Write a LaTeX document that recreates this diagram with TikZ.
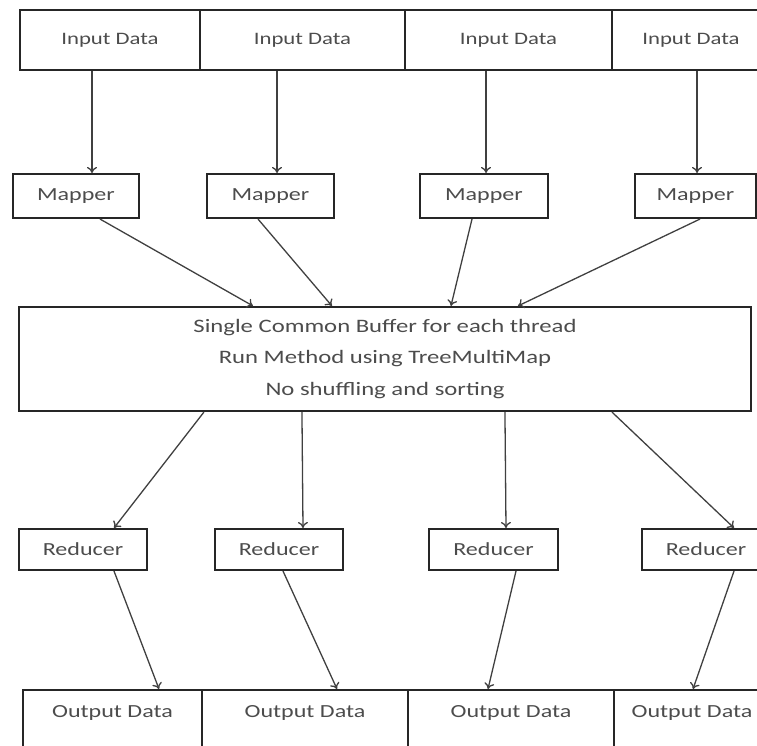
\documentclass[tikz,border=0pt]{standalone}
\usepackage{fontspec}
\setmainfont{Carlito}[FakeStretch=1.3]
\usepackage{tikz}
\usetikzlibrary{arrows.meta}

\tikzset{
  box/.style={draw=black!85, line width=2.1pt, inner sep=0pt, text=black!70,
    font=\fontsize{18.5}{22}\selectfont},
  outbox/.style={box, anchor=north, inner xsep=0pt, inner ysep=15pt,
    text height=12pt, text depth=70pt},
  arr/.style={-{To[length=6pt,width=10pt]}, draw=black!75, line width=1.3pt},
}

\begin{document}
\begin{tikzpicture}[x=1pt,y=-1pt]
    \useasboundingbox (0,0) rectangle (757,746);
    \clip (0,0) rectangle (757,746);

    % input row
    \node[box, font=\fontsize{17.5}{21}\selectfont, minimum width=180, minimum height=60] (in1) at (110,40) {Input Data};
    \node[box, font=\fontsize{17.5}{21}\selectfont, minimum width=205, minimum height=60] (in2) at (302.5,40) {Input Data};
    \node[box, font=\fontsize{17.5}{21}\selectfont, minimum width=207, minimum height=60] (in3) at (508.5,40) {Input Data};
    \node[box, font=\fontsize{17.5}{21}\selectfont, minimum width=158, minimum height=60] (in4) at (691,40) {Input Data};

    % mappers
    \node[box, minimum width=126, minimum height=44] (map1) at (76,196) {Mapper};
    \node[box, minimum width=127, minimum height=44] (map2) at (270.5,196) {Mapper};
    \node[box, minimum width=128, minimum height=44] (map3) at (484,196) {Mapper};
    \node[box, minimum width=121, minimum height=44] (map4) at (695.5,196) {Mapper};

    % common buffer
    \node[box, minimum width=732, minimum height=104, align=center,
      font=\fontsize{19}{31.7}\selectfont] (buf) at (385,359)
      {Single Common Buffer for each thread\\Run Method using TreeMultiMap\\No shuffling and sorting};

    % reducers
    \node[box, minimum width=128, minimum height=41] (red1) at (83,549.5) {Reducer};
    \node[box, minimum width=128, minimum height=41] (red2) at (279,549.5) {Reducer};
    \node[box, minimum width=129, minimum height=41] (red3) at (493.5,549.5) {Reducer};
    \node[box, minimum width=128, minimum height=41] (red4) at (706,549.5) {Reducer};

    % output row
    \node[outbox, minimum width=179] (out1) at (112.5,689) {Output Data};
    \node[outbox, minimum width=206] (out2) at (305,689) {Output Data};
    \node[outbox, minimum width=206] (out3) at (511,689) {Output Data};
    \node[outbox, minimum width=156] (out4) at (692,689) {Output Data};

    % input -> mapper
    \coordinate (a1) at ([xshift=-18pt]in1.south);
    \coordinate (a2) at ([xshift=-25.5pt]in2.south);
    \coordinate (a3) at ([xshift=-22.5pt]in3.south);
    \coordinate (a4) at ([xshift=6pt]in4.south);
    \draw[arr] (a1) -- (a1 |- map1.north);
    \draw[arr] (a2) -- (a2 |- map2.north);
    \draw[arr] (a3) -- (a3 |- map3.north);
    \draw[arr] (a4) -- (a4 |- map4.north);

    % mapper -> buffer
    \draw[arr] ([xshift=24pt]map1.south) -- ([xshift=235pt]buf.north west);
    \draw[arr] ([xshift=-12.5pt]map2.south) -- ([xshift=314pt]buf.north west);
    \draw[arr] ([xshift=-12pt]map3.south) -- ([xshift=433pt]buf.north west);
    \draw[arr] ([xshift=4.5pt]map4.south) -- ([xshift=500pt]buf.north west);

    % buffer -> reducer
    \draw[arr] ([xshift=186pt]buf.south west) -- ([xshift=31pt]red1.north);
    \draw[arr] ([xshift=284pt]buf.south west) -- ([xshift=24pt]red2.north);
    \draw[arr] ([xshift=487pt]buf.south west) -- ([xshift=12.5pt]red3.north);
    \draw[arr] ([xshift=594pt]buf.south west) -- ([xshift=28pt]red4.north);

    % reducer -> output
    \draw[arr] ([xshift=31pt]red1.south) -- ([xshift=46.5pt]out1.north);
    \draw[arr] ([xshift=4pt]red2.south) -- ([xshift=32pt]out2.north);
    \draw[arr] ([xshift=22.5pt]red3.south) -- ([xshift=-23pt]out3.north);
    \draw[arr] ([xshift=28pt]red4.south) -- ([xshift=1pt]out4.north);
\end{tikzpicture}
\end{document}
